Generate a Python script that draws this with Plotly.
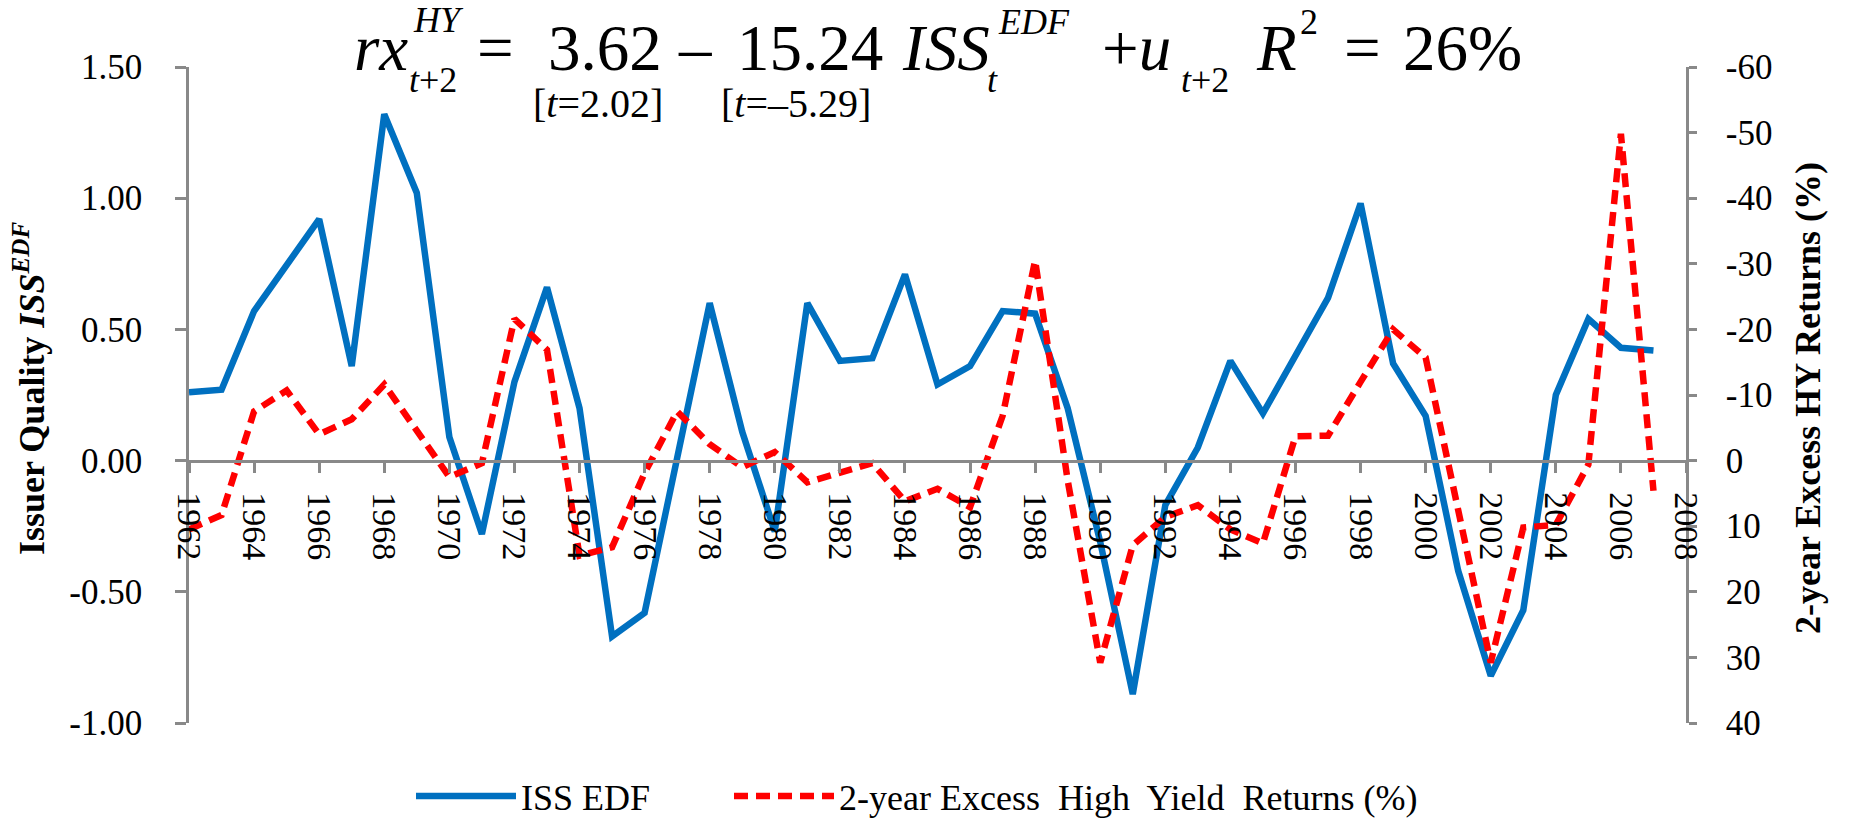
import plotly.graph_objects as go

# ---- data -------------------------------------------------------------
years = list(range(1962, 2008))

iss_edf = [
    0.26, 0.27, 0.57, 0.75, 0.92, 0.36, 1.32, 1.02, 0.09, -0.28,
    0.30, 0.66, 0.20, -0.67, -0.58, 0.01, 0.60, 0.11, -0.27, 0.60,
    0.38, 0.39, 0.71, 0.29, 0.36, 0.57, 0.56, 0.20, -0.31, -0.89,
    -0.17, 0.05, 0.38, 0.18, 0.40, 0.62, 0.98, 0.37, 0.17, -0.42,
    -0.82, -0.57, 0.25, 0.54, 0.43, 0.42,
]

hy_excess = [
    10.5, 8.3, -7.5, -10.7, -4.0, -6.3, -11.6, -4.6, 2.5, 0.4,
    -21.6, -16.9, 14.5, 13.2, 1.9, -7.5, -2.5, 1.0, -1.3, 3.3,
    1.9, 0.4, 6.2, 4.3, 7.1, -6.8, -30.5, 3.0, 30.8, 12.9,
    8.6, 6.8, 10.5, 12.6, -3.7, -3.8, -12.0, -20.0, -15.7, 7.0,
    30.8, 10.2, 9.8, 0.6, -49.8, 4.6,
]

left_tickvals = [-1.0, -0.5, 0.0, 0.5, 1.0, 1.5]
left_ticktext = ["-1.00", "-0.50", "0.00", "0.50", "1.00", "1.50"]
right_tickvals = [-60, -50, -40, -30, -20, -10, 0, 10, 20, 30, 40]
right_ticktext = [str(v) for v in right_tickvals]
x_tickvals = list(range(1962, 2009, 2))
x_ticktext = [str(v) for v in x_tickvals]

# ---- styling ----------------------------------------------------------
SERIF = "Liberation Serif"
AXIS_GREY = "#898989"
BLUE = "#0070C0"
RED = "#FF0000"

W_FIG, H_FIG = 1849, 819
L, T, R, B = 189, 67, 163, 96
PW, PH = W_FIG - L - R, H_FIG - T - B


def fx(px):
    return (px - L) / PW


def fy(py):
    return (T + PH - py) / PH


fig = go.Figure()

fig.add_trace(go.Scatter(
    x=years, y=iss_edf, mode="lines", name="ISS EDF",
    line=dict(color=BLUE, width=6.5), legend="legend",
))
fig.add_trace(go.Scatter(
    x=years, y=hy_excess, mode="lines",
    name="2-year Excess\u00a0 High\u00a0 Yield\u00a0 Returns (%)",
    yaxis="y2", legend="legend2",
    line=dict(color=RED, width=6.5, dash="14px,8px"),
))

# ---- regression equation above the plot ------------------------------
MAIN = 65
SMALL = 36
BRK = 40
eq_tokens = [
    # text, left x (px), centre y (px), size
    ("<i>rx</i>", 352, 48, MAIN),
    ("<i>HY</i>", 411, 20, SMALL),
    ("<i>t</i>+2", 407, 80, SMALL),
    ("=", 475, 48, MAIN),
    ("3.62", 546, 48, MAIN),
    ("\u2013", 676, 48, MAIN),
    ("15.24", 735, 48, MAIN),
    ("<i>ISS</i>", 900, 48, MAIN),
    ("<i>EDF</i>", 996, 22, SMALL),
    ("<i>t</i>", 985, 80, SMALL),
    ("+<i>u</i>", 1100, 48, MAIN),
    ("<i>t</i>+2", 1179, 80, SMALL),
    ("<i>R</i>", 1254, 48, MAIN),
    ("2", 1298, 22, SMALL),
    ("=", 1342, 48, MAIN),
    ("26%", 1401, 48, MAIN),
    ("[<i>t</i>=2.02]", 531, 103, BRK),
    ("[<i>t</i>=\u20135.29]", 719, 103, BRK),
]

annotations = []
for text, x_px, y_px, size in eq_tokens:
    annotations.append(dict(
        text=text, x=fx(x_px), y=fy(y_px), xref="paper", yref="paper",
        xanchor="left", yanchor="middle", showarrow=False,
        font=dict(family=SERIF, size=size, color="black"),
    ))

# axis titles
annotations.append(dict(
    text="<b>Issuer Quality <i>ISS<sup>EDF</sup></i></b>",
    x=fx(29), y=fy(389), xref="paper", yref="paper",
    xanchor="center", yanchor="middle", textangle=-90, showarrow=False,
    font=dict(family=SERIF, size=36, color="black"),
))
annotations.append(dict(
    text="<b>2-year Excess HY Returns (%)</b>",
    x=fx(1808), y=fy(398), xref="paper", yref="paper",
    xanchor="center", yanchor="middle", textangle=-90, showarrow=False,
    font=dict(family=SERIF, size=36, color="black"),
))

axis_common = dict(
    showline=True, linecolor=AXIS_GREY, linewidth=2.5,
    ticks="outside", tickcolor=AXIS_GREY, tickwidth=2.5,
    showgrid=False, zeroline=False,
)

legend_common = dict(
    orientation="h", xref="container", xanchor="left",
    yref="container", y=(H_FIG - 796) / H_FIG, yanchor="middle",
    font=dict(family=SERIF, size=36, color="black"),
    itemwidth=100, bgcolor="rgba(0,0,0,0)",
)

fig.update_layout(
    width=W_FIG, height=H_FIG,
    margin=dict(l=L, r=R, t=T, b=B, pad=0, autoexpand=False),
    paper_bgcolor="white", plot_bgcolor="white",
    font=dict(family=SERIF, color="black"),
    xaxis=dict(
        range=[1962, 2008], anchor="free", position=0.4,
        tickmode="array", tickvals=x_tickvals, ticktext=x_ticktext,
        tickangle=90, ticklen=11, ticklabelstandoff=12,
        tickfont=dict(family=SERIF, size=34, color="black"),
        **axis_common,
    ),
    yaxis=dict(
        range=[-1.0, 1.5], domain=[0, 1],
        tickmode="array", tickvals=left_tickvals, ticktext=left_ticktext,
        ticklen=11, ticklabelstandoff=26,
        tickfont=dict(family=SERIF, size=35, color="black"),
        **axis_common,
    ),
    yaxis2=dict(
        range=[40, -60], overlaying="y", side="right",
        tickmode="array", tickvals=right_tickvals, ticktext=right_ticktext,
        ticklen=8, ticklabelstandoff=22,
        tickfont=dict(family=SERIF, size=35, color="black"),
        **axis_common,
    ),
    legend=dict(x=411 / W_FIG, **legend_common),
    legend2=dict(x=729 / W_FIG, **legend_common),
    annotations=annotations,
    showlegend=True,
)

fig.write_html("out.html")
